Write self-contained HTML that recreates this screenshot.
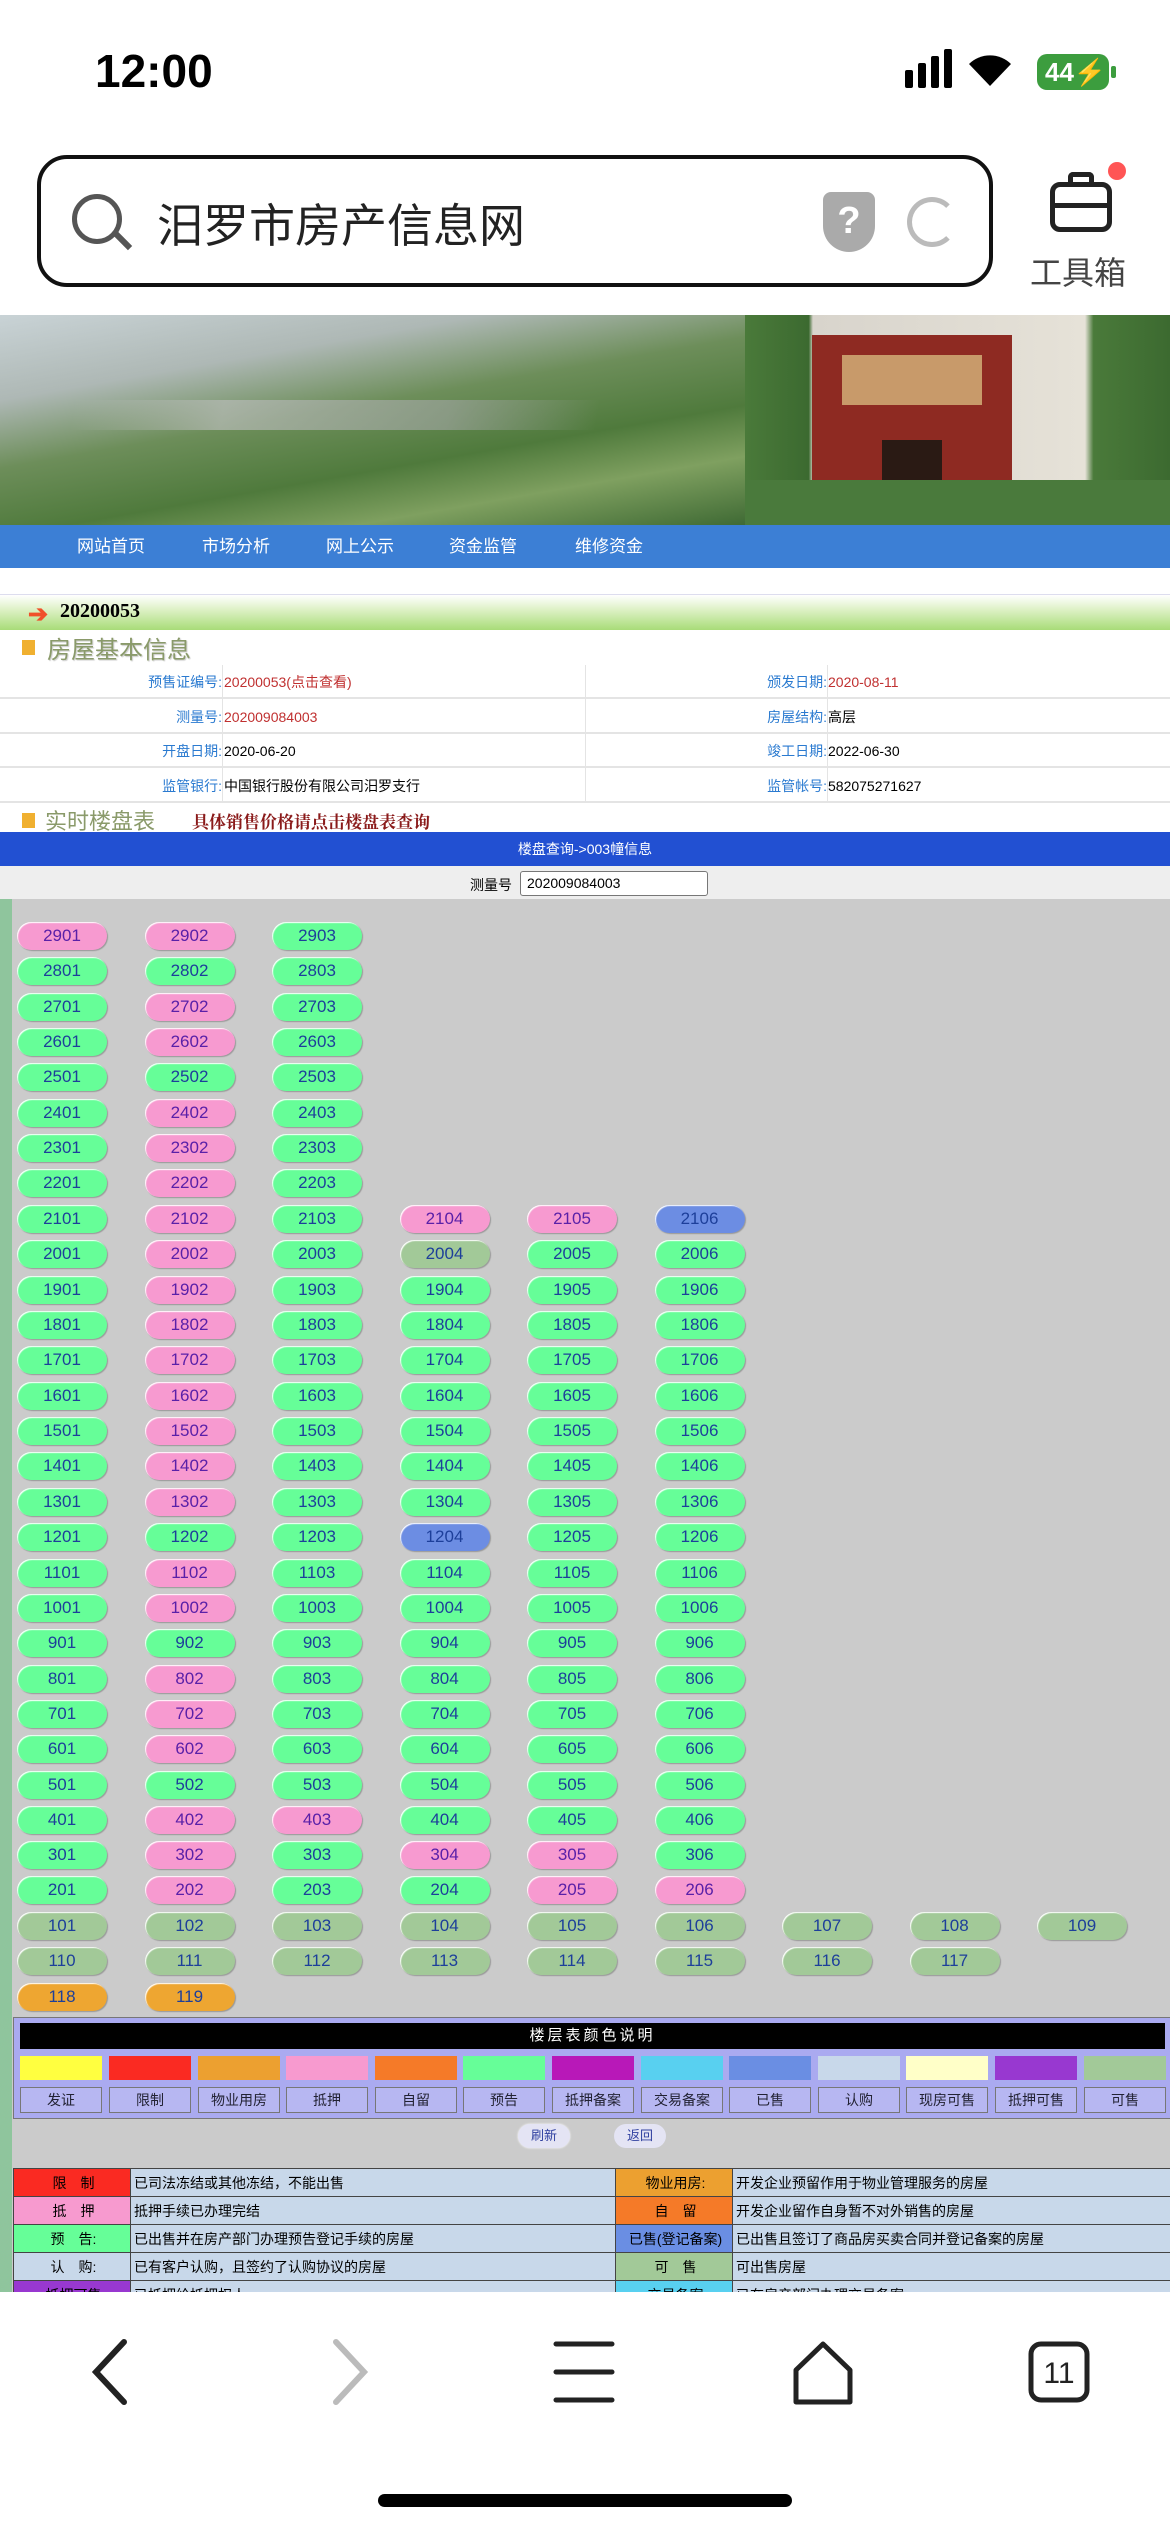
<!DOCTYPE html>
<html><head><meta charset="utf-8"><style>
*{margin:0;padding:0;box-sizing:border-box}
body{width:1170px;height:2532px;position:relative;overflow:hidden;background:#fff;font-family:"Liberation Sans","Noto Sans CJK SC",sans-serif}
.a{position:absolute}
.r{position:absolute;left:17px;display:flex}
.r b{display:block;width:90px;height:28px;margin-right:37.5px;border-radius:14px;font-weight:normal;font-size:17px;line-height:28px;text-align:center;color:#1d3f9a;box-shadow:1px 1px 1px #999,inset 1px 1px 1px #fff}
.g{background:#66fe98}.p{background:#f79ad0;color:#5a20a8!important}.k{background:#a2c998}.u{background:#6c8de3}.o{background:#eea631}.e{visibility:hidden}
.nav span{position:absolute;top:0;color:#fff;font-size:17px;line-height:43px}
.tr{position:absolute;left:0;width:1170px;height:34px;border-bottom:2px solid #e4e4e4;font-size:14px;line-height:34px}
.tr span{position:absolute}
.lb{color:#2a7ad0;text-align:right}
.sw{position:absolute;top:2056px;width:82px;height:24px}
.lg{position:absolute;top:2087px;width:82px;height:26px;background:#b7b7f2;border:1px solid #777;font-size:14px;line-height:24px;text-align:center;color:#223}
.bt td{border:1px solid #444;font-size:14px;height:28px;padding-left:3px}
</style></head><body>
<!-- status bar -->
<div class="a" style="left:95px;top:44px;font-size:46px;font-weight:bold;color:#000">12:00</div>
<div class="a" style="left:905px;top:70px;width:8px;height:18px;background:#000;border-radius:2px"></div>
<div class="a" style="left:918px;top:63px;width:8px;height:25px;background:#000;border-radius:2px"></div>
<div class="a" style="left:931px;top:56px;width:8px;height:32px;background:#000;border-radius:2px"></div>
<div class="a" style="left:944px;top:49px;width:8px;height:39px;background:#000;border-radius:2px"></div>
<svg class="a" style="left:967px;top:50px" width="46" height="38"><path d="M23 36 L2 14 A30 30 0 0 1 44 14 Z" fill="#000"/></svg>
<div class="a" style="left:1037px;top:54px;width:72px;height:36px;background:#3c9d3e;border-radius:10px;color:#fff;font-weight:bold;font-size:26px;line-height:36px;padding-left:8px">44⚡</div>
<div class="a" style="left:1111px;top:66px;width:5px;height:12px;background:#3c9d3e;border-radius:2px"></div>
<!-- search -->
<div class="a" style="left:37px;top:155px;width:956px;height:132px;border:4px solid #111;border-radius:30px"></div>
<div class="a" style="left:72px;top:194px;width:50px;height:50px;border:5px solid #555;border-radius:50%"></div>
<div class="a" style="left:113px;top:238px;width:20px;height:6px;background:#555;transform:rotate(45deg)"></div>
<div class="a" style="left:157px;top:190px;font-size:46px;color:#222">汨罗市房产信息网</div>
<div class="a" style="left:823px;top:192px;width:52px;height:60px;background:#aaa;border-radius:8px 8px 26px 26px;color:#fff;font-size:38px;text-align:center;line-height:58px;font-weight:bold">?</div>
<div class="a" style="left:907px;top:197px;width:50px;height:50px;border:5px solid #bbb;border-right-color:transparent;border-radius:50%"></div>
<div class="a" style="left:1050px;top:182px;width:62px;height:50px;border:5px solid #222;border-radius:10px"></div>
<div class="a" style="left:1068px;top:172px;width:26px;height:14px;border:5px solid #222;border-bottom:none;border-radius:5px 5px 0 0"></div>
<div class="a" style="left:1050px;top:203px;width:62px;height:5px;background:#222"></div>
<div class="a" style="left:1108px;top:162px;width:18px;height:18px;background:#f55;border-radius:50%"></div>
<div class="a" style="left:1030px;top:248px;font-size:32px;color:#444">工具箱</div>
<!-- banner -->
<div class="a" style="left:0;top:315px;width:745px;height:210px;background:linear-gradient(170deg,#c9d3d6 0%,#aeb8b5 25%,#6d8e5a 45%,#4f7a3c 65%,#7fa060 80%,#3f6a34 100%)"></div>
<div class="a" style="left:0;top:400px;width:745px;height:30px;background:linear-gradient(100deg,transparent 10%,#b8bcb8 30%,#9aa29a 60%,transparent 80%);opacity:.7"></div>
<div class="a" style="left:745px;top:315px;width:425px;height:210px;background:linear-gradient(90deg,#4a7a3a 0%,#3c6a30 15%,#d8d4cc 16%,#e6e2d8 80%,#4a7a3a 82%,#3c6a30 100%)"></div>
<div class="a" style="left:812px;top:335px;width:200px;height:190px;background:#8e2a22"></div>
<div class="a" style="left:842px;top:355px;width:140px;height:50px;background:#c89a6a"></div>
<div class="a" style="left:882px;top:440px;width:60px;height:85px;background:#2a1a14"></div>
<div class="a" style="left:745px;top:480px;width:425px;height:45px;background:#4a7a3c"></div>
<!-- nav -->
<div class="a nav" style="left:0;top:525px;width:1170px;height:43px;background:#3c7fd5"><span style="left:77px">网站首页</span><span style="left:202px">市场分析</span><span style="left:326px">网上公示</span><span style="left:449px">资金监管</span><span style="left:575px">维修资金</span></div>
<div class="a" style="left:0;top:594px;width:1170px;height:36px;background:linear-gradient(#fff,#dff2c8 40%,#a8dc78);border-top:1px solid #dde"></div>
<div class="a" style="left:28px;top:600px;color:#f0502a;font-size:24px;font-weight:bold">➔</div>
<div class="a" style="left:60px;top:600px;font-family:'Liberation Serif',serif;font-weight:bold;font-size:20px">20200053</div>
<div class="a" style="left:22px;top:640px;width:13px;height:15px;background:#f0b030"></div>
<div class="a" style="left:47px;top:630px;font-size:24px;color:#8a9a6a;text-shadow:1px 1px 1px #ccc">房屋基本信息</div>
<!-- info table -->
<div class="tr" style="top:665px"><span class="lb" style="right:948px">预售证编号:</span><span style="left:224px;color:#c03030">20200053(点击查看)</span><span class="lb" style="right:343px">颁发日期:</span><span style="left:828px;color:#c03030">2020-08-11</span></div>
<div class="tr" style="top:700px"><span class="lb" style="right:948px">测量号:</span><span style="left:224px;color:#c03030">202009084003</span><span class="lb" style="right:343px">房屋结构:</span><span style="left:828px">高层</span></div>
<div class="tr" style="top:734px"><span class="lb" style="right:948px">开盘日期:</span><span style="left:224px">2020-06-20</span><span class="lb" style="right:343px">竣工日期:</span><span style="left:828px">2022-06-30</span></div>
<div class="tr" style="top:769px"><span class="lb" style="right:948px">监管银行:</span><span style="left:224px">中国银行股份有限公司汨罗支行</span><span class="lb" style="right:343px">监管帐号:</span><span style="left:828px">582075271627</span></div>
<div class="a" style="left:222px;top:665px;width:1px;height:138px;background:#e4e4e4"></div>
<div class="a" style="left:585px;top:665px;width:1px;height:138px;background:#e4e4e4"></div>
<div class="a" style="left:827px;top:665px;width:1px;height:138px;background:#e4e4e4"></div>
<div class="a" style="left:22px;top:813px;width:13px;height:15px;background:#f0b030"></div>
<div class="a" style="left:45px;top:804px;font-size:22px;color:#8a9a6a">实时楼盘表</div>
<div class="a" style="left:192px;top:808px;font-size:17px;color:#8a1a1a;font-weight:bold;font-family:'Liberation Serif','Noto Serif CJK SC',serif">具体销售价格请点击楼盘表查询</div>
<div class="a" style="left:0;top:832px;width:1170px;height:34px;background:#2250d2;color:#fff;font-size:14px;text-align:center;line-height:34px">楼盘查询->003幢信息</div>
<div class="a" style="left:0;top:866px;width:1170px;height:33px;background:#eee"></div>
<div class="a" style="left:470px;top:875px;font-size:14px">测量号</div>
<div class="a" style="left:520px;top:871px;width:188px;height:25px;background:#fff;border:1px solid #777;border-radius:3px;font-size:14px;line-height:23px;padding-left:6px">202009084003</div>
<!-- grid area -->
<div class="a" style="left:0;top:899px;width:1170px;height:1393px;background:#cbcbcb"></div>
<div class="a" style="left:0;top:899px;width:12px;height:1393px;background:#8fc59d"></div>
<div class="r" style="top:922px"><b class="p">2901</b><b class="p">2902</b><b class="g">2903</b></div>
<div class="r" style="top:957px"><b class="g">2801</b><b class="g">2802</b><b class="g">2803</b></div>
<div class="r" style="top:993px"><b class="g">2701</b><b class="p">2702</b><b class="g">2703</b></div>
<div class="r" style="top:1028px"><b class="g">2601</b><b class="p">2602</b><b class="g">2603</b></div>
<div class="r" style="top:1063px"><b class="g">2501</b><b class="g">2502</b><b class="g">2503</b></div>
<div class="r" style="top:1099px"><b class="g">2401</b><b class="p">2402</b><b class="g">2403</b></div>
<div class="r" style="top:1134px"><b class="g">2301</b><b class="p">2302</b><b class="g">2303</b></div>
<div class="r" style="top:1169px"><b class="g">2201</b><b class="p">2202</b><b class="g">2203</b></div>
<div class="r" style="top:1205px"><b class="g">2101</b><b class="p">2102</b><b class="g">2103</b><b class="p">2104</b><b class="p">2105</b><b class="u">2106</b></div>
<div class="r" style="top:1240px"><b class="g">2001</b><b class="p">2002</b><b class="g">2003</b><b class="k">2004</b><b class="g">2005</b><b class="g">2006</b></div>
<div class="r" style="top:1276px"><b class="g">1901</b><b class="p">1902</b><b class="g">1903</b><b class="g">1904</b><b class="g">1905</b><b class="g">1906</b></div>
<div class="r" style="top:1311px"><b class="g">1801</b><b class="p">1802</b><b class="g">1803</b><b class="g">1804</b><b class="g">1805</b><b class="g">1806</b></div>
<div class="r" style="top:1346px"><b class="g">1701</b><b class="p">1702</b><b class="g">1703</b><b class="g">1704</b><b class="g">1705</b><b class="g">1706</b></div>
<div class="r" style="top:1382px"><b class="g">1601</b><b class="p">1602</b><b class="g">1603</b><b class="g">1604</b><b class="g">1605</b><b class="g">1606</b></div>
<div class="r" style="top:1417px"><b class="g">1501</b><b class="p">1502</b><b class="g">1503</b><b class="g">1504</b><b class="g">1505</b><b class="g">1506</b></div>
<div class="r" style="top:1452px"><b class="g">1401</b><b class="p">1402</b><b class="g">1403</b><b class="g">1404</b><b class="g">1405</b><b class="g">1406</b></div>
<div class="r" style="top:1488px"><b class="g">1301</b><b class="p">1302</b><b class="g">1303</b><b class="g">1304</b><b class="g">1305</b><b class="g">1306</b></div>
<div class="r" style="top:1523px"><b class="g">1201</b><b class="g">1202</b><b class="g">1203</b><b class="u">1204</b><b class="g">1205</b><b class="g">1206</b></div>
<div class="r" style="top:1559px"><b class="g">1101</b><b class="p">1102</b><b class="g">1103</b><b class="g">1104</b><b class="g">1105</b><b class="g">1106</b></div>
<div class="r" style="top:1594px"><b class="g">1001</b><b class="p">1002</b><b class="g">1003</b><b class="g">1004</b><b class="g">1005</b><b class="g">1006</b></div>
<div class="r" style="top:1629px"><b class="g">901</b><b class="g">902</b><b class="g">903</b><b class="g">904</b><b class="g">905</b><b class="g">906</b></div>
<div class="r" style="top:1665px"><b class="g">801</b><b class="p">802</b><b class="g">803</b><b class="g">804</b><b class="g">805</b><b class="g">806</b></div>
<div class="r" style="top:1700px"><b class="g">701</b><b class="p">702</b><b class="g">703</b><b class="g">704</b><b class="g">705</b><b class="g">706</b></div>
<div class="r" style="top:1735px"><b class="g">601</b><b class="p">602</b><b class="g">603</b><b class="g">604</b><b class="g">605</b><b class="g">606</b></div>
<div class="r" style="top:1771px"><b class="g">501</b><b class="g">502</b><b class="g">503</b><b class="g">504</b><b class="g">505</b><b class="g">506</b></div>
<div class="r" style="top:1806px"><b class="g">401</b><b class="p">402</b><b class="p">403</b><b class="g">404</b><b class="g">405</b><b class="g">406</b></div>
<div class="r" style="top:1841px"><b class="g">301</b><b class="p">302</b><b class="g">303</b><b class="p">304</b><b class="p">305</b><b class="g">306</b></div>
<div class="r" style="top:1876px"><b class="g">201</b><b class="p">202</b><b class="g">203</b><b class="g">204</b><b class="p">205</b><b class="p">206</b></div>
<div class="r" style="top:1912px"><b class="k">101</b><b class="k">102</b><b class="k">103</b><b class="k">104</b><b class="k">105</b><b class="k">106</b><b class="k">107</b><b class="k">108</b><b class="k">109</b></div>
<div class="r" style="top:1947px"><b class="k">110</b><b class="k">111</b><b class="k">112</b><b class="k">113</b><b class="k">114</b><b class="k">115</b><b class="k">116</b><b class="k">117</b></div>
<div class="r" style="top:1983px"><b class="o">118</b><b class="o">119</b></div>
<!-- legend -->
<div class="a" style="left:13px;top:2017px;width:1160px;height:102px;background:#aaaaf0;border:1px solid #777"></div>
<div class="a" style="left:20px;top:2023px;width:1145px;height:26px;background:#000;color:#fff;font-size:15px;text-align:center;line-height:26px;letter-spacing:3px">楼层表颜色说明</div>
<div class="sw" style="left:20px;background:#ffff40"></div><div class="sw" style="left:109px;background:#fa2a22"></div><div class="sw" style="left:198px;background:#eca030"></div><div class="sw" style="left:286px;background:#f79acf"></div><div class="sw" style="left:375px;background:#f57a28"></div><div class="sw" style="left:463px;background:#66fe98"></div><div class="sw" style="left:552px;background:#b818b8"></div><div class="sw" style="left:641px;background:#58d0f0"></div><div class="sw" style="left:729px;background:#6a8ee3"></div><div class="sw" style="left:818px;background:#c8d8ea"></div><div class="sw" style="left:906px;background:#ffffc8"></div><div class="sw" style="left:995px;background:#9838d0"></div><div class="sw" style="left:1084px;background:#a2c998"></div>
<div class="lg" style="left:20px">发证</div><div class="lg" style="left:109px">限制</div><div class="lg" style="left:198px">物业用房</div><div class="lg" style="left:286px">抵押</div><div class="lg" style="left:375px">自留</div><div class="lg" style="left:463px">预告</div><div class="lg" style="left:552px">抵押备案</div><div class="lg" style="left:641px">交易备案</div><div class="lg" style="left:729px">已售</div><div class="lg" style="left:818px">认购</div><div class="lg" style="left:906px">现房可售</div><div class="lg" style="left:995px">抵押可售</div><div class="lg" style="left:1084px">可售</div>
<div class="a" style="left:518px;top:2124px;width:52px;height:24px;border-radius:12px;background:#e4e4f4;box-shadow:0 0 2px #fff;font-size:13px;color:#3040a0;text-align:center;line-height:24px">刷新</div>
<div class="a" style="left:614px;top:2124px;width:52px;height:24px;border-radius:12px;background:#e4e4f4;font-size:13px;color:#3040a0;text-align:center;line-height:24px">返回</div>
<!-- bottom table -->
<table class="a bt" style="left:13px;top:2168px;width:1170px;border-collapse:collapse;background:#c8d8ea">
<tr><td style="width:117px;background:#fa2a22;text-align:center">限　制</td><td style="width:485px">已司法冻结或其他冻结，不能出售</td><td style="width:117px;background:#eca030;text-align:center">物业用房:</td><td>开发企业预留作用于物业管理服务的房屋</td></tr>
<tr><td style="background:#f79acf;text-align:center">抵　押</td><td>抵押手续已办理完结</td><td style="background:#f57a28;text-align:center">自　留</td><td>开发企业留作自身暂不对外销售的房屋</td></tr>
<tr><td style="background:#66fe98;text-align:center">预　告:</td><td>已出售并在房产部门办理预告登记手续的房屋</td><td style="background:#6a8ee3;text-align:center">已售(登记备案)</td><td>已出售且签订了商品房买卖合同并登记备案的房屋</td></tr>
<tr><td style="text-align:center">认　购:</td><td>已有客户认购，且签约了认购协议的房屋</td><td style="background:#a2c998;text-align:center">可　售</td><td>可出售房屋</td></tr>
<tr><td style="background:#9838d0;text-align:center">抵押可售</td><td>已抵押给抵押权人</td><td style="background:#58d0f0;text-align:center">交易备案</td><td>已在房产部门办理交易备案</td></tr>
</table>
<!-- bottom bar -->
<div class="a" style="left:0;top:2292px;width:1170px;height:240px;background:#fff"></div>
<svg class="a" style="left:0;top:2330px" width="1170" height="90">
<path d="M124 12 L96 42 L124 72" stroke="#222" stroke-width="6" fill="none" stroke-linecap="round"/>
<path d="M336 12 L364 42 L336 72" stroke="#bbb" stroke-width="6" fill="none" stroke-linecap="round"/>
<path d="M556 14 H612 M556 42 H612 M556 70 H612" stroke="#222" stroke-width="5" stroke-linecap="round"/>
<path d="M796 40 L823 14 L850 40 V72 H796 Z" stroke="#222" stroke-width="5" fill="none" stroke-linejoin="round"/>
<rect x="1031" y="14" width="56" height="56" rx="10" stroke="#222" stroke-width="5" fill="none"/>
<text x="1059" y="53" font-size="30" font-family="Liberation Sans" text-anchor="middle" fill="#222">11</text>
</svg>
<div class="a" style="left:378px;top:2494px;width:414px;height:13px;background:#000;border-radius:7px"></div>
</body></html>
